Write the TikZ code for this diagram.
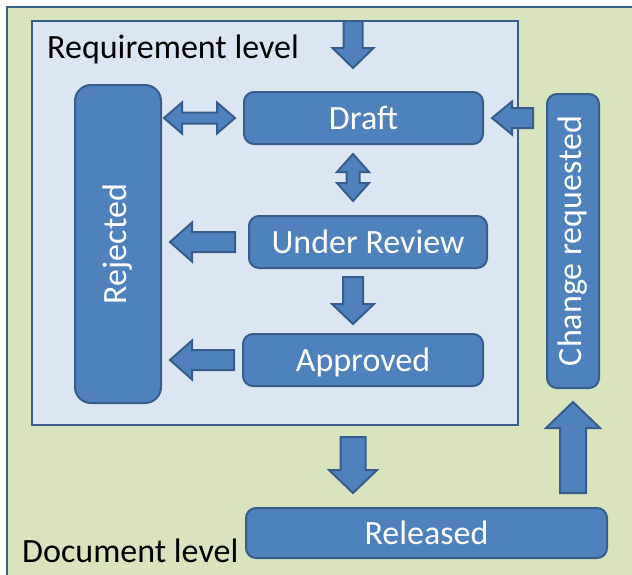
\documentclass[tikz,border=0pt]{standalone}
\usepackage{fontspec}
\setmainfont{Carlito}
\usetikzlibrary{calc}

\definecolor{docfill}{HTML}{D7E4BD}
\definecolor{reqfill}{HTML}{DCE6F2}
\definecolor{nodefill}{HTML}{4F81BD}
\definecolor{nodeline}{HTML}{385D8A}

\tikzset{
    box/.style={draw=nodeline, fill=nodefill, line width=2pt, text=white,
        inner sep=0pt, outer sep=0pt, font=\fontsize{34}{41}\selectfont},
    state/.style={box, rounded corners=10pt, text height=22pt, text depth=0pt},
    level/.style={anchor=base west, inner sep=0pt, font=\fontsize{34}{41}\selectfont},
    blockarrow/.style={draw=nodeline, fill=nodefill, line width=2pt, line join=miter}
}

% #1,#2 : extremites ; #3,#4 : ecarts ; #5 : demi-tige ; #6 : demi-tete ; #7 : longueur de tete
\newcommand{\blockarrow}[7]{%
    \coordinate (ba-s) at ($(#1)!#3!(#2)$);
    \coordinate (ba-e) at ($(#2)!#4!(#1)$);
    \coordinate (ba-h) at ($(ba-e)!#7!(ba-s)$);
    \draw[blockarrow]
        ($(ba-s)!#5!90:(ba-e)$) -- ($(ba-h)!#5!-90:(ba-s)$)
        -- ($(ba-h)!#6!-90:(ba-s)$) -- (ba-e) -- ($(ba-h)!#6!90:(ba-s)$)
        -- ($(ba-h)!#5!90:(ba-s)$) -- ($(ba-s)!#5!-90:(ba-e)$) -- cycle;
}

% meme chose, avec une tete a chaque bout
\newcommand{\dblarrow}[7]{%
    \coordinate (ba-s) at ($(#1)!#3!(#2)$);
    \coordinate (ba-e) at ($(#2)!#4!(#1)$);
    \coordinate (ba-a) at ($(ba-s)!#7!(ba-e)$);
    \coordinate (ba-b) at ($(ba-e)!#7!(ba-s)$);
    \draw[blockarrow]
        (ba-s) -- ($(ba-a)!#6!90:(ba-e)$) -- ($(ba-a)!#5!90:(ba-e)$)
        -- ($(ba-b)!#5!-90:(ba-s)$) -- ($(ba-b)!#6!-90:(ba-s)$) -- (ba-e)
        -- ($(ba-b)!#6!90:(ba-s)$) -- ($(ba-b)!#5!90:(ba-s)$)
        -- ($(ba-a)!#5!-90:(ba-e)$) -- ($(ba-a)!#6!-90:(ba-e)$) -- cycle;
}

\begin{document}
\begin{tikzpicture}[x=1pt, y=-1pt]
    \useasboundingbox (0,0) rectangle (632,574);
    \clip (0,0) rectangle (632,574);

    % Niveau document
    \draw[fill=docfill, draw=nodeline, line width=2.5pt] (7,7) rectangle (660,600);
    \node[level] (doclabel) at (22,562) {Document level};

    % Niveau exigence
    \node[draw=nodeline, fill=reqfill, line width=2pt, outer sep=0pt,
        minimum width=486, minimum height=404] (req) at (275,223) {};
    \node[level] (reqlabel) at (47,58) {Requirement level};

    % Etats
    \node[box, rounded corners=16pt, minimum width=86, minimum height=318]
        (rejected) at (118,244) {\rotatebox{90}{Rejected}};
    \node[state, minimum width=239, minimum height=52] (draft) at (363.5,118) {Draft};
    \node[state, minimum width=238, minimum height=52] (review) at (368,242) {Under Review};
    \node[state, minimum width=240, minimum height=52] (approved) at (363,360) {Approved};
    \node[box, rounded corners=10pt, minimum width=52, minimum height=294]
        (change) at (573,241) {\rotatebox{90}{Change requested}};
    \node[state, minimum width=361, minimum height=50] (released) at (426.5,533) {Released};

    \coordinate (entry) at (353,21);

    % Fleches
    \blockarrow{entry}{entry |- draft.north}{0pt}{24pt}{9.5pt}{20.5pt}{20pt}
    \blockarrow{change.west |- draft.east}{draft.east}{14pt}{9pt}{10pt}{16.5pt}{20pt}
    \dblarrow{draft.west}{draft.west -| rejected.east}{9pt}{3pt}{5.5pt}{15.5pt}{18pt}
    \dblarrow{draft.south -| entry}{review.north -| entry}{10pt}{15pt}{6.5pt}{16pt}{18pt}
    \blockarrow{review.west}{review.west -| rejected.east}{14pt}{9pt}{10pt}{19.5pt}{22pt}
    \blockarrow{review.south -| entry}{approved.north -| entry}{9pt}{10pt}{10pt}{21pt}{20pt}
    \blockarrow{approved.west}{approved.west -| rejected.east}{9pt}{9pt}{10pt}{19.5pt}{22pt}
    \blockarrow{req.south -| entry}{released.north -| entry}{12pt}{15pt}{12.5pt}{24pt}{23pt}
    \blockarrow{released.north -| change.south}{change.south}{15pt}{14pt}{13pt}{27pt}{26pt}

\end{tikzpicture}
\end{document}
